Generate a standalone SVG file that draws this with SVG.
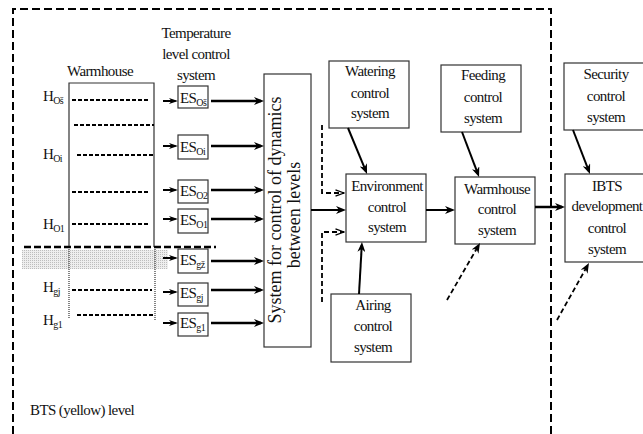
<svg xmlns="http://www.w3.org/2000/svg" width="643" height="434" viewBox="0 0 643 434" font-family="'Liberation Serif', 'Times New Roman', serif">
<style>
text{font-family:'Liberation Serif','Times New Roman',serif;fill:#111}
.t{font-family:'Liberation Serif','Times New Roman',serif;font-size:15px;letter-spacing:-0.6px;text-anchor:middle}
.l{font-family:'Liberation Serif','Times New Roman',serif;font-size:15px;letter-spacing:-0.6px}
.s{font-size:10px}
.box{fill:#fff;stroke:#333;stroke-width:1.2}
.dl{stroke:#000;stroke-width:1.8;stroke-dasharray:4 2;fill:none}
.c{stroke:#000;fill:none}
.th{stroke-width:2.5}
.md{stroke-width:2}
.sm{stroke-width:2}
.dc{stroke:#000;stroke-width:1.8;stroke-dasharray:5 3;fill:none}
</style>
<defs>
<pattern id="dots" width="2" height="2" patternUnits="userSpaceOnUse"><rect width="2" height="2" fill="#eeeeee"/><rect width="1" height="1" fill="#bdbdbd"/></pattern>
<marker id="ah" viewBox="0 0 10 8" refX="7" refY="4" markerWidth="10" markerHeight="8" orient="auto" markerUnits="userSpaceOnUse"><path d="M0,0 L10,4 L0,8 L3,4 z" fill="#000"/></marker>
<marker id="ai" viewBox="0 0 9 6" refX="6.5" refY="3" markerWidth="9" markerHeight="6" orient="auto" markerUnits="userSpaceOnUse"><path d="M0,0 L9,3 L0,6 L2.5,3 z" fill="#000"/></marker>
<marker id="ao" viewBox="0 0 10 8" refX="9.5" refY="4" markerWidth="10" markerHeight="8" orient="auto" markerUnits="userSpaceOnUse"><path d="M1,0.8 L9.5,4 L1,7.2" fill="none" stroke="#000" stroke-width="1.3"/></marker>
</defs>

<g id="border">
<path d="M13,434 V9 H551 V434" fill="none" stroke="#000" stroke-width="2" stroke-dasharray="8 4"/>
<text class="l" x="30" y="415">BTS (yellow) level</text>
</g>

<g id="warmhouse">
<rect x="22" y="250" width="146" height="19" fill="url(#dots)"/>
<text class="t" x="100" y="76">Warmhouse</text>
<path d="M69,247 V83 H154 V247" fill="none" stroke="#333" stroke-width="1.2"/>
<path d="M69,247 V319 M155,247 V320" fill="none" stroke="#333" stroke-width="1.2" stroke-dasharray="1 1"/>
<line class="dl" x1="72" y1="100" x2="148" y2="100"/>
<line class="dl" x1="74" y1="125" x2="154" y2="125"/>
<line class="dl" x1="77" y1="155" x2="155" y2="155"/>
<line class="dl" x1="72" y1="192" x2="150" y2="192"/>
<line class="dl" x1="72" y1="224" x2="150" y2="224"/>
<line class="dl" x1="72" y1="290" x2="152" y2="290"/>
<line class="dl" x1="77" y1="315" x2="153" y2="315"/>
<line x1="24" y1="247" x2="216" y2="247" stroke="#000" stroke-width="2.5" stroke-dasharray="7 3"/>
<text class="l" x="43" y="101">H<tspan class="s" dy="3">Oš</tspan></text>
<text class="l" x="43" y="159">H<tspan class="s" dy="3">Oi</tspan></text>
<text class="l" x="43" y="229">H<tspan class="s" dy="3">O1</tspan></text>
<text class="l" x="43" y="292">H<tspan class="s" dy="3">gj</tspan></text>
<text class="l" x="43" y="325">H<tspan class="s" dy="3">g1</tspan></text>
</g>

<g id="temp-label">
<text class="t" x="196" y="38">Temperature</text>
<text class="t" x="196" y="59">level control</text>
<text class="t" x="196" y="80">system</text>
</g>

<g id="es-os"><rect class="box" x="178" y="86" width="30" height="22"/><text class="l" x="180" y="103">ES<tspan class="s" dy="3">Oš</tspan></text></g>
<g id="es-oi"><rect class="box" x="178" y="135" width="30" height="24"/><text class="l" x="180" y="152">ES<tspan class="s" dy="3">Oi</tspan></text></g>
<g id="es-o2"><rect class="box" x="178" y="180" width="30" height="23"/><text class="l" x="180" y="196">ES<tspan class="s" dy="3">O2</tspan></text></g>
<g id="es-o1"><rect class="box" x="178" y="209" width="30" height="24"/><text class="l" x="180" y="225">ES<tspan class="s" dy="3">O1</tspan></text></g>
<g id="es-gz"><rect class="box" x="178" y="249" width="30" height="24"/><text class="l" x="180" y="265">ES<tspan class="s" dy="3">gž</tspan></text></g>
<g id="es-gj"><rect class="box" x="178" y="283" width="30" height="23"/><text class="l" x="180" y="298">ES<tspan class="s" dy="3">gj</tspan></text></g>
<g id="es-g1"><rect class="box" x="178" y="313" width="30" height="23"/><text class="l" x="180" y="328">ES<tspan class="s" dy="3">g1</tspan></text></g>

<g id="dynamics">
<rect class="box" x="264" y="74" width="47" height="273"/>
<text transform="translate(281,210) rotate(-90)" font-size="18" text-anchor="middle">System for control of dynamics</text>
<text transform="translate(300,215) rotate(-90)" font-size="18" text-anchor="middle">between levels</text>
</g>

<g id="watering">
<rect class="box" x="329" y="61" width="80" height="67"/>
<text class="t" x="370" y="76">Watering</text>
<text class="t" x="370" y="98">control</text>
<text class="t" x="370" y="118">system</text>
</g>

<g id="environment">
<rect class="box" x="346" y="174" width="80" height="68"/>
<text class="t" x="387" y="191">Environment</text>
<text class="t" x="387" y="212">control</text>
<text class="t" x="387" y="232">system</text>
</g>

<g id="airing">
<rect class="box" x="331" y="294" width="80" height="68"/>
<text class="t" x="373" y="310">Airing</text>
<text class="t" x="373" y="331">control</text>
<text class="t" x="373" y="352">system</text>
</g>

<g id="feeding">
<rect class="box" x="441" y="65" width="80" height="67"/>
<text class="t" x="483" y="80">Feeding</text>
<text class="t" x="483" y="102">control</text>
<text class="t" x="483" y="123">system</text>
</g>

<g id="warmhouse-control">
<rect class="box" x="455" y="177" width="80" height="67"/>
<text class="t" x="497" y="194">Warmhouse</text>
<text class="t" x="497" y="214">control</text>
<text class="t" x="497" y="235">system</text>
</g>

<g id="security">
<rect class="box" x="564" y="63" width="82" height="67"/>
<text class="t" x="606" y="79">Security</text>
<text class="t" x="606" y="101">control</text>
<text class="t" x="606" y="122">system</text>
</g>

<g id="ibts">
<rect class="box" x="565" y="174" width="82" height="88"/>
<text class="t" x="607" y="191">IBTS</text>
<text class="t" x="607" y="211">development</text>
<text class="t" x="607" y="233">control</text>
<text class="t" x="607" y="254">system</text>
</g>

<g id="connectors">
<g class="c sm">
<line x1="163" y1="101" x2="175.5" y2="101" marker-end="url(#ai)"/>
<line x1="163" y1="146" x2="175.5" y2="146" marker-end="url(#ai)"/>
<line x1="163" y1="190" x2="175.5" y2="190" marker-end="url(#ai)"/>
<line x1="163" y1="219" x2="175.5" y2="219" marker-end="url(#ai)"/>
<line x1="163" y1="258" x2="175.5" y2="258" marker-end="url(#ai)"/>
<line x1="163" y1="292" x2="175.5" y2="292" marker-end="url(#ai)"/>
<line x1="163" y1="323" x2="175.5" y2="323" marker-end="url(#ai)"/>
</g>
<g class="c th">
<line x1="211" y1="101" x2="261" y2="101" marker-end="url(#ah)"/>
<line x1="211" y1="146" x2="261" y2="146" marker-end="url(#ah)"/>
<line x1="211" y1="190" x2="261" y2="190" marker-end="url(#ah)"/>
<line x1="211" y1="219" x2="261" y2="219" marker-end="url(#ah)"/>
<line x1="211" y1="261" x2="261" y2="261" marker-end="url(#ah)"/>
<line x1="211" y1="290" x2="261" y2="290" marker-end="url(#ah)"/>
<line x1="211" y1="323" x2="261" y2="323" marker-end="url(#ah)"/>
<line x1="535" y1="207" x2="562" y2="207" marker-end="url(#ah)"/>
</g>
<g class="c md">
<line x1="311" y1="210" x2="343" y2="210" marker-end="url(#ah)"/>
<line x1="426" y1="210" x2="452" y2="210" marker-end="url(#ah)"/>
<line x1="348" y1="128" x2="365.9" y2="171.2" marker-end="url(#ah)"/>
<line x1="359" y1="294" x2="361.8" y2="245" marker-end="url(#ah)"/>
<line x1="462" y1="132" x2="478" y2="174.2" marker-end="url(#ah)"/>
<line x1="573" y1="130" x2="588.9" y2="171.2" marker-end="url(#ah)"/>
</g>
<path class="dc" d="M322,125 V193 H344" marker-end="url(#ao)"/>
<path class="dc" d="M322,302 V232 H344" marker-end="url(#ao)"/>
<line class="dc" x1="447" y1="300" x2="478.5" y2="245.6" marker-end="url(#ah)"/>
<line class="dc" x1="557" y1="320" x2="587.5" y2="265.6" marker-end="url(#ah)"/>
</g>
</svg>
